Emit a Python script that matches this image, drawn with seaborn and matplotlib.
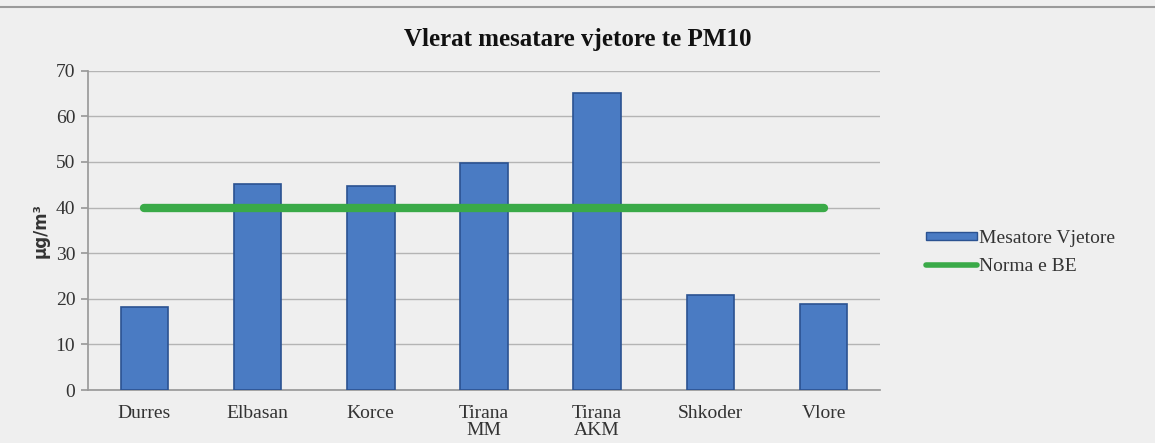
import matplotlib
matplotlib.use("Agg")
import matplotlib.pyplot as plt
import seaborn as sns
import pandas as pd
from matplotlib.lines import Line2D
from matplotlib.patches import Patch

categories = ["Durres", "Elbasan", "Korce", "Tirana\nMM", "Tirana\nAKM", "Shkoder", "Vlore"]
annual_mean = [18.1, 45.1, 44.8, 49.8, 65.1, 20.8, 18.9]
eu_norm = [40, 40, 40, 40, 40, 40, 40]
y_ticks = [0, 10, 20, 30, 40, 50, 60, 70]

title = "Vlerat mesatare vjetore te PM10"
y_label = "µg/m³"
bar_label = "Mesatore Vjetore"
line_label = "Norma e BE"

sns.set_theme(style="white")
plt.rcParams["font.family"] = ["Liberation Serif", "DejaVu Serif"]

bg = "#efefef"
fig = plt.figure(figsize=(11.55, 4.43), dpi=100, facecolor=bg)
ax = fig.add_axes([0.076, 0.1196, 0.686, 0.7208])
ax.set_facecolor(bg)

df = pd.DataFrame({"cat": categories, "val": annual_mean})
sns.barplot(data=df, x="cat", y="val", ax=ax, color="#4a7bc3", width=0.42,
            edgecolor="#2b5291", linewidth=1.2, saturation=1, zorder=3)

ax.plot(range(len(categories)), eu_norm, color="#3aaa48", linewidth=6,
        solid_capstyle="round", zorder=4)

ax.set_ylim(0, 70)
ax.set_xlim(-0.5, len(categories) - 0.5)
ax.set_yticks(y_ticks)
ax.yaxis.grid(True, color="#b4b4b4", linewidth=1.0, zorder=0)
ax.set_axisbelow(True)
for s in ["top", "right"]:
    ax.spines[s].set_visible(False)
ax.spines["left"].set_color("#9a9a9a")
ax.spines["bottom"].set_color("#9a9a9a")
ax.tick_params(axis="y", left=True, length=5, color="#9a9a9a", labelsize=14, labelcolor="#333333", pad=4)
ax.tick_params(axis="x", bottom=False, labelsize=14, labelcolor="#333333", pad=5)
for lbl in ax.get_xticklabels():
    lbl.set_linespacing(1.0)
ax.set_xlabel("")
ax.set_ylabel(y_label, fontsize=12, fontweight="bold", color="#333333", labelpad=4,
              family=["DejaVu Sans"])
fig.suptitle(title, x=0.5, y=0.91, va="center", fontsize=18, fontweight="bold", color="#111111")

handles = [
    Patch(facecolor="#4a7bc3", edgecolor="#2b5291", label=bar_label),
    Line2D([0], [0], color="#3aaa48", linewidth=4, solid_capstyle="round", label=line_label),
]
leg = fig.legend(handles=handles, loc="center left", bbox_to_anchor=(0.787, 0.43),
                 frameon=False, fontsize=14, handlelength=2.6, handleheight=0.3,
                 handletextpad=0.1, labelspacing=0.55)
for t in leg.get_texts():
    t.set_color("#333333")

fig.add_artist(Line2D([0.0, 1.0], [0.985, 0.985], color="#9a9a9a", linewidth=1.5,
                      transform=fig.transFigure))

fig.savefig("out.png", dpi=100, facecolor=bg)
